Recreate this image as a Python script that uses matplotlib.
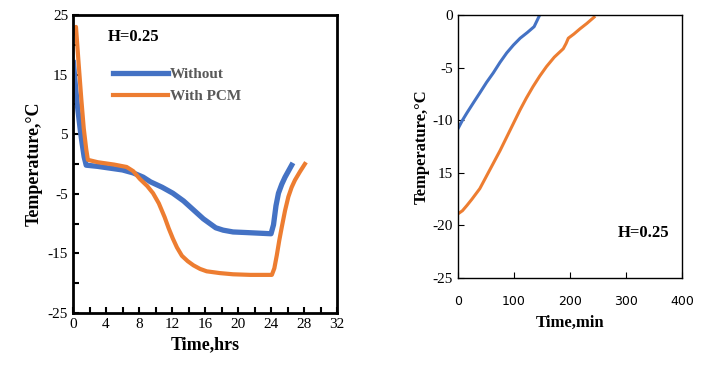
import matplotlib
matplotlib.use('Agg')
import matplotlib.pyplot as plt
import numpy as np

plt.rcParams['font.family'] = ['Liberation Serif', 'DejaVu Serif']
plt.rcParams['axes.unicode_minus'] = False

# left panel: cooling over the full run (hours)
t_without = [0.05, 0.3, 0.6, 0.9, 1.1, 1.35, 1.6, 3.0, 4.5, 6.0, 7.3, 8.5, 9.4, 10.8, 12.1, 13.4, 14.6, 15.8,
             16.6, 17.3, 18.2, 19.4, 21.0, 22.5, 24.0, 24.3, 24.6, 24.9, 25.3, 25.7, 26.1, 26.5]
T_without = [17.0, 13.0, 9.0, 5.5, 3.5, 1.2, -0.2, -0.4, -0.7, -1.0, -1.5, -2.2, -3.0, -3.9, -4.9, -6.2, -7.7, -9.2,
             -10.0, -10.7, -11.1, -11.4, -11.5, -11.6, -11.7, -10.2, -7.0, -4.9, -3.4, -2.2, -1.2, -0.2]

t_pcm = [0.05, 0.36, 0.7, 1.0, 1.3, 1.6, 1.8, 3.0, 5.0, 6.5, 7.3, 8.1, 9.0, 9.7, 10.4, 11.1, 11.6, 12.1, 12.6,
         13.2, 13.9, 14.6, 15.4, 16.2, 17.8, 19.4, 21.5, 24.1, 24.4, 24.7, 25.0, 25.3, 25.7, 26.1, 26.5, 26.9,
         27.5, 28.1]
T_pcm = [22.0, 23.0, 16.5, 11.0, 6.0, 2.5, 0.7, 0.3, -0.1, -0.5, -1.2, -2.5, -3.7, -4.9, -6.6, -8.9, -10.8, -12.5,
         -14.0, -15.4, -16.3, -17.0, -17.6, -18.0, -18.3, -18.5, -18.6, -18.6, -17.5, -15.3, -12.8, -10.6, -7.8,
         -5.5, -3.9, -2.7, -1.3, 0.0]

# right panel: warm-up (minutes)
m_without = [0, 8, 16, 28, 39, 51, 63, 75, 87, 99, 111, 124, 136, 140.5, 145]
M_without = [-10.8, -10.0, -9.3, -8.3, -7.4, -6.4, -5.5, -4.5, -3.6, -2.85, -2.2, -1.65, -1.1, -0.6, -0.1]

m_pcm = [0, 8, 16, 25, 39, 50, 63, 75, 87, 99, 111, 122, 134, 146, 158, 172, 188, 193, 197, 207, 218, 230, 243]
M_pcm = [-18.9, -18.6, -18.1, -17.5, -16.5, -15.4, -14.1, -12.9, -11.6, -10.3, -9.0, -7.9, -6.8, -5.8, -4.9,
         -4.0, -3.2, -2.7, -2.2, -1.8, -1.3, -0.8, -0.2]

left_yticks = [25, 15, 5, -5, -15, -25]
right_yticks = [0, -5, -10, -15, -20, -25]
right_ylabels = ['0', '-5', '-10', '15', '-20', '-25']

blue = '#4472C4'
orange = '#ED7D31'

fig = plt.figure(figsize=(7.06, 3.74), dpi=100)

ax1 = fig.add_axes([0.1034, 0.163, 0.374, 0.797])
ax1.plot(t_without, T_without, color=blue, lw=3.8, label='Without', solid_joinstyle='round')
ax1.plot(t_pcm, T_pcm, color=orange, lw=3.0, label='With PCM', solid_joinstyle='round')
ax1.set_xlim(0, 32)
ax1.set_ylim(-25, 25)
ax1.set_xticks(np.arange(0, 33, 4))
ax1.set_yticks(left_yticks)
ax1.set_yticks(np.arange(-25, 26, 5), minor=True)
ax1.set_xticks(np.arange(0, 33, 2), minor=True)
ax1.tick_params(direction='in', which='both', labelsize=11, width=1.5, length=4)
ax1.tick_params(which='minor', labelleft=False)
for s in ax1.spines.values():
    s.set_linewidth(2)
ax1.set_xlabel('Time,hrs', fontsize=13, fontweight='bold')
ax1.set_ylabel('Temperature,°C', fontsize=13, fontweight='bold', labelpad=4)
ax1.text(0.13, 0.925, 'H=0.25', transform=ax1.transAxes, fontsize=12, fontweight='bold', va='center')
leg = ax1.legend(loc='upper left', bbox_to_anchor=(0.1, 0.87), frameon=False, handlelength=3.6,
                 handletextpad=0.1, labelspacing=0.55, prop={'weight': 'bold', 'size': 11})
for txt in leg.get_texts():
    txt.set_color('#595959')

ax2 = fig.add_axes([0.6487, 0.2567, 0.3173, 0.703])
ax2.plot(m_without, M_without, color=blue, lw=2.2)
ax2.plot(m_pcm, M_pcm, color=orange, lw=2.2)
ax2.set_xlim(0, 400)
ax2.set_ylim(-25, 0)
ax2.set_xticks([0, 100, 200, 300, 400])
ax2.set_yticks(right_yticks)
ax2.set_yticklabels(right_ylabels)
ax2.tick_params(direction='in', labelsize=11, length=4)
for lab in ax2.get_xticklabels():
    lab.set_fontfamily('DejaVu Sans')
    lab.set_fontsize(9)
ax2.tick_params(axis='x', pad=12)
for s in ax2.spines.values():
    s.set_linewidth(1)
ax2.set_xlabel('Time,min', fontsize=12, fontweight='bold', labelpad=5)
ax2.set_ylabel('Temperature,°C', fontsize=12, fontweight='bold', labelpad=2)
ax2.text(0.83, 0.173, 'H=0.25', transform=ax2.transAxes, fontsize=12, fontweight='bold', ha='center', va='center')

fig.savefig('out.png', dpi=100)
